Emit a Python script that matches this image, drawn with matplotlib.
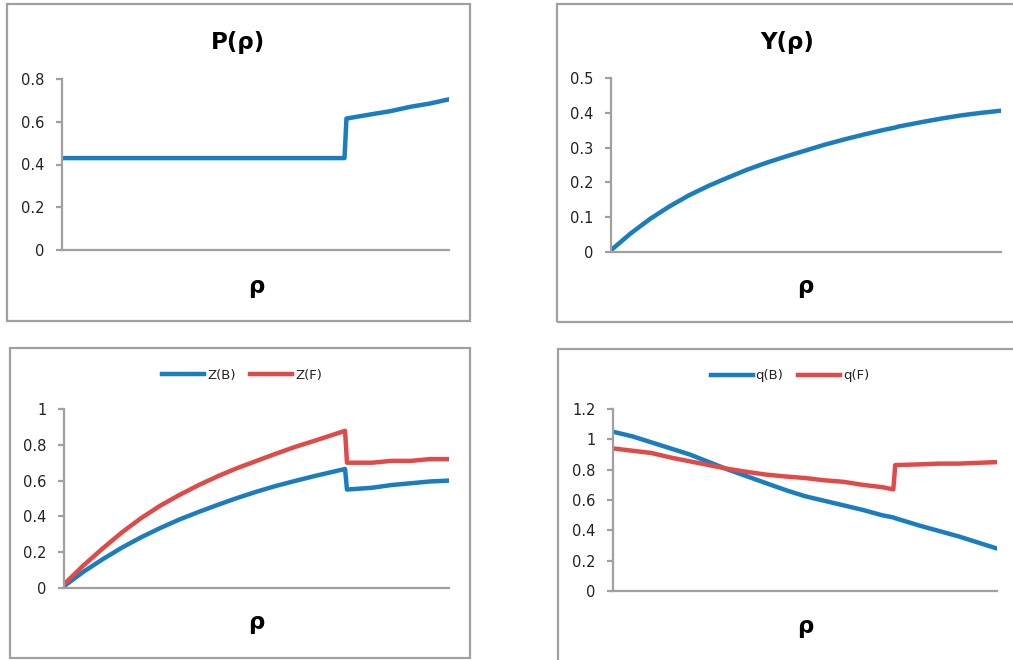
import matplotlib
matplotlib.use("Agg")
import matplotlib.pyplot as plt
from matplotlib.patches import Rectangle

W, H = 1013, 660

rho = [0.00, 0.05, 0.10, 0.15, 0.20, 0.25, 0.30, 0.35, 0.40, 0.45, 0.50,
       0.55, 0.60, 0.65, 0.70, 0.73, 0.735, 0.80, 0.85, 0.90, 0.95, 1.00]

p_rho = [0.43, 0.43, 0.43, 0.43, 0.43, 0.43, 0.43, 0.43, 0.43, 0.43, 0.43,
         0.43, 0.43, 0.43, 0.43, 0.43, 0.615, 0.635, 0.65, 0.67, 0.685, 0.705]

y_rho = [0.005, 0.053, 0.095, 0.131, 0.163, 0.19, 0.214, 0.237, 0.257, 0.275, 0.292,
         0.309, 0.324, 0.338, 0.351, 0.358, 0.36, 0.374, 0.384, 0.393, 0.40, 0.406]

z_b = [0.01, 0.09, 0.16, 0.225, 0.283, 0.335, 0.383, 0.425, 0.465, 0.503, 0.538,
       0.57, 0.598, 0.625, 0.65, 0.665, 0.55, 0.56, 0.575, 0.585, 0.595, 0.60]
z_f = [0.02, 0.125, 0.22, 0.31, 0.39, 0.46, 0.52, 0.575, 0.625, 0.67, 0.71,
       0.75, 0.788, 0.822, 0.857, 0.878, 0.70, 0.70, 0.71, 0.71, 0.72, 0.72]

q_b = [1.05, 1.02, 0.98, 0.94, 0.90, 0.85, 0.80, 0.755, 0.71, 0.665, 0.625,
       0.595, 0.565, 0.535, 0.50, 0.485, 0.48, 0.43, 0.395, 0.36, 0.32, 0.28]
q_f = [0.94, 0.925, 0.91, 0.88, 0.855, 0.83, 0.805, 0.785, 0.767, 0.755, 0.745,
       0.73, 0.72, 0.70, 0.685, 0.67, 0.83, 0.835, 0.84, 0.84, 0.845, 0.85]

ticks_p = [0, 0.2, 0.4, 0.6, 0.8]
ticks_y = [0, 0.1, 0.2, 0.3, 0.4, 0.5]
ticks_z = [0, 0.2, 0.4, 0.6, 0.8, 1]
ticks_q = [0, 0.2, 0.4, 0.6, 0.8, 1, 1.2]

BLUE = "#1a7dc0"
RED = "#e04a47"
GRAY = "#a0a0a0"

fig = plt.figure(figsize=(W / 100, H / 100), dpi=100)


def px_axes(x0, ytop, x1, ybot):
    return fig.add_axes([x0 / W, 1 - ybot / H, (x1 - x0) / W, (ybot - ytop) / H])


def box(x0, y0, x1, y1):
    fig.patches.append(Rectangle((x0 / W, 1 - y1 / H), (x1 - x0) / W, (y1 - y0) / H,
                                 transform=fig.transFigure, fill=False,
                                 edgecolor=GRAY, lw=1.6))


def style(ax, ticks):
    ax.set_xlim(0, 1)
    ax.set_ylim(ticks[0], ticks[-1])
    ax.set_yticks(ticks)
    ax.set_yticklabels([("%g" % t) for t in ticks])
    ax.set_xticks([])
    for s in ["top", "right"]:
        ax.spines[s].set_visible(False)
    for s in ["left", "bottom"]:
        ax.spines[s].set_color(GRAY)
        ax.spines[s].set_linewidth(1.6)
    ax.tick_params(axis="y", length=4.5, width=1.6, color=GRAY, pad=8,
                   labelsize=10.5, labelcolor="#222222")
    ax.patch.set_alpha(0)


box(7, 4, 470, 321)
box(557, 4, 1030, 322)
box(10, 348, 470, 658)
box(558, 349, 1030, 680)

ax1 = px_axes(62, 79, 449, 250)
ax1.plot(rho, p_rho, color=BLUE, lw=3.2)
style(ax1, ticks_p)

ax2 = px_axes(611, 78, 1001, 252)
ax2.plot(rho, y_rho, color=BLUE, lw=3.2)
style(ax2, ticks_y)

ax3 = px_axes(64, 409, 449, 588)
ax3.plot(rho, z_b, color=BLUE, lw=3.2, label="Z(B)")
ax3.plot(rho, z_f, color=RED, lw=3.2, label="Z(F)")
style(ax3, ticks_z)

ax4 = px_axes(613, 409, 997, 591)
ax4.plot(rho, q_b, color=BLUE, lw=3.2, label="q(B)")
ax4.plot(rho, q_f, color=RED, lw=3.2, label="q(F)")
style(ax4, ticks_q)

for ax, cx, cy in [(ax3, 242, 375), (ax4, 790, 376)]:
    ax.legend(loc="center", bbox_to_anchor=(cx / W, 1 - cy / H),
              bbox_transform=fig.transFigure, ncol=2, frameon=False,
              fontsize=9.5, handlelength=3.2, handletextpad=0.2,
              columnspacing=1.1, labelcolor="#222222")

fig.text(238 / W, 1 - 42 / H, "P(ρ)", ha="center", va="center",
         fontsize=16.5, fontweight="bold")
fig.text(787 / W, 1 - 42 / H, "Y(ρ)", ha="center", va="center",
         fontsize=16.5, fontweight="bold")
for x, y in [(256, 286), (805, 287), (256, 623), (805, 627)]:
    fig.text(x / W, 1 - y / H, "ρ", ha="center", va="center",
             fontsize=16.5, fontweight="bold")

plt.savefig("out.png", dpi=100)
